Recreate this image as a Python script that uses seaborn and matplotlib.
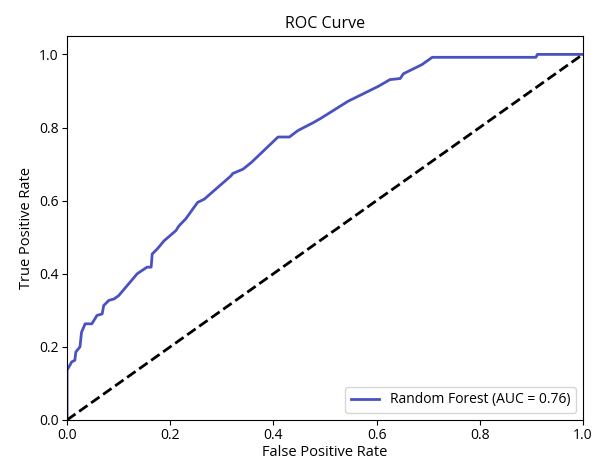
import matplotlib
matplotlib.use("Agg")
import matplotlib.pyplot as plt
import seaborn as sns
import pandas as pd

fpr = [0.0, 0.0, 0.009, 0.015, 0.017, 0.025, 0.028, 0.035, 0.048, 0.058, 0.068,
       0.071, 0.081, 0.091, 0.100, 0.136, 0.155, 0.163, 0.165, 0.175, 0.188,
       0.211, 0.217, 0.230, 0.253, 0.266, 0.318, 0.321, 0.341, 0.357, 0.409,
       0.431, 0.448, 0.477, 0.493, 0.545, 0.571, 0.604, 0.626, 0.646, 0.652,
       0.688, 0.708, 0.909, 0.912, 1.0]
tpr = [0.0, 0.136, 0.159, 0.163, 0.186, 0.200, 0.240, 0.263, 0.263, 0.286, 0.290,
       0.313, 0.327, 0.331, 0.340, 0.400, 0.418, 0.418, 0.454, 0.468, 0.490,
       0.518, 0.531, 0.550, 0.595, 0.604, 0.668, 0.674, 0.686, 0.704, 0.774,
       0.774, 0.792, 0.813, 0.826, 0.872, 0.890, 0.913, 0.931, 0.934, 0.947,
       0.972, 0.992, 0.992, 1.0, 1.0]
auc_value = 0.76
model_name = "Random Forest"

df = pd.DataFrame({"fpr": fpr, "tpr": tpr})

plt.rcParams["font.family"] = ["Open Sans", "DejaVu Sans"]

fig, ax = plt.subplots(figsize=(5.99, 4.63), dpi=100)
fig.subplots_adjust(left=0.112, right=0.973, top=0.922, bottom=0.093)

sns.lineplot(data=df, x="fpr", y="tpr", sort=False, estimator=None,
             color="#4a52c2", linewidth=2,
             label=f"{model_name} (AUC = {auc_value:.2f})", ax=ax)
ax.plot([0, 1], [0, 1], "k--", linewidth=2)

ax.set_xlim(0.0, 1.0)
ax.set_ylim(0.0, 1.05)
ax.set_xlabel("False Positive Rate", fontsize=10.5, labelpad=1.5)
ax.set_ylabel("True Positive Rate", fontsize=10.5)
ax.set_title("ROC Curve", fontsize=11.5)
ax.tick_params(labelsize=10, pad=2.5)
ax.legend(loc="lower right", fontsize=10)

fig.savefig("out.png", dpi=100)
